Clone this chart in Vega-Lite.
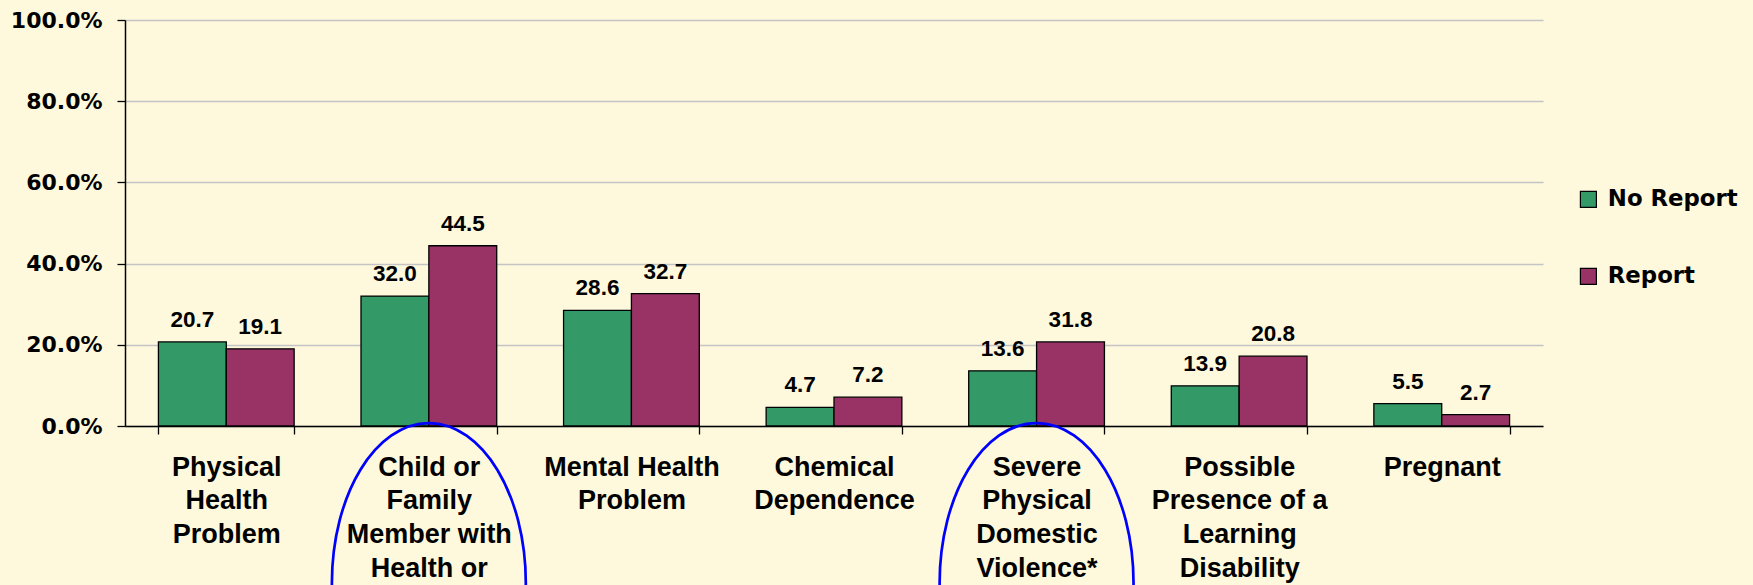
{
  "$schema": "https://vega.github.io/schema/vega-lite/v6.json",
  "autosize": {"type": "none"},
  "padding": {"left": 125, "top": 20, "right": 210, "bottom": 159},
  "width": 1418,
  "height": 406,
  "background": "#FEF9DC",
  "config": {
    "view": {"stroke": null},
    "font": "Liberation Sans"
  },
  "datasets": {
    "bars": [
      {"category": "Physical Health Problem", "group": "No Report", "value": 20.7, "label": "20.7"},
      {"category": "Physical Health Problem", "group": "Report", "value": 19.0, "label": "19.1"},
      {"category": "Child or Family Member with Health or", "group": "No Report", "value": 32.0, "label": "32.0"},
      {"category": "Child or Family Member with Health or", "group": "Report", "value": 44.4, "label": "44.5"},
      {"category": "Mental Health Problem", "group": "No Report", "value": 28.5, "label": "28.6"},
      {"category": "Mental Health Problem", "group": "Report", "value": 32.6, "label": "32.7"},
      {"category": "Chemical Dependence", "group": "No Report", "value": 4.6, "label": "4.7"},
      {"category": "Chemical Dependence", "group": "Report", "value": 7.1, "label": "7.2"},
      {"category": "Severe Physical Domestic Violence*", "group": "No Report", "value": 13.6, "label": "13.6"},
      {"category": "Severe Physical Domestic Violence*", "group": "Report", "value": 20.7, "label": "31.8"},
      {"category": "Possible Presence of a Learning Disability", "group": "No Report", "value": 9.9, "label": "13.9"},
      {"category": "Possible Presence of a Learning Disability", "group": "Report", "value": 17.2, "label": "20.8"},
      {"category": "Pregnant", "group": "No Report", "value": 5.5, "label": "5.5"},
      {"category": "Pregnant", "group": "Report", "value": 2.8, "label": "2.7"}
    ],
    "circles": [
      {"category": "Child or Family Member with Health or", "value": -38.7},
      {"category": "Severe Physical Domestic Violence*", "value": -38.7}
    ]
  },
  "encoding": {
    "x": {
      "field": "category",
      "type": "nominal",
      "sort": null,
      "scale": {"paddingInner": 0.33, "paddingOuter": 0.165},
      "axis": {
        "title": null,
        "labelAngle": 0,
        "labelLimit": 0,
        "labelFont": "Liberation Sans",
        "labelFontSize": 27,
        "labelFontWeight": "bold",
        "labelColor": "#000000",
        "labelLineHeight": 33.7,
        "labelBaseline": "top",
        "labelPadding": 20,
        "tickBand": "extent",
        "tickSize": 8,
        "tickColor": "#000000",
        "tickWidth": 1.3,
        "domainColor": "#000000",
        "domainWidth": 1.5,
        "grid": false,
        "labelExpr": "{'Physical Health Problem': ['Physical', 'Health', 'Problem'], 'Child or Family Member with Health or': ['Child or', 'Family', 'Member with', 'Health or'], 'Mental Health Problem': ['Mental Health', 'Problem'], 'Chemical Dependence': ['Chemical', 'Dependence'], 'Severe Physical Domestic Violence*': ['Severe', 'Physical', 'Domestic', 'Violence*'], 'Possible Presence of a Learning Disability': ['Possible', 'Presence of a', 'Learning', 'Disability'], 'Pregnant': ['Pregnant']}[datum.value]"
      }
    }
  },
  "layer": [
    {
      "data": {"name": "bars"},
      "mark": {"type": "bar", "stroke": "#000000", "strokeWidth": 1.3},
      "encoding": {
        "xOffset": {"field": "group", "type": "nominal", "scale": {"paddingInner": 0, "paddingOuter": 0}},
        "y": {
          "field": "value",
          "type": "quantitative",
          "scale": {"domain": [0, 100], "nice": false},
          "axis": {
            "title": null,
            "values": [0, 20, 40, 60, 80, 100],
            "labelExpr": "format(datum.value, '.1f') + '%'",
            "labelFont": "DejaVu Sans",
            "labelFontSize": 22,
            "labelFontWeight": "bold",
            "labelColor": "#000000",
            "labelPadding": 15,
            "tickSize": 8,
            "tickColor": "#000000",
            "tickWidth": 1.3,
            "domainColor": "#000000",
            "domainWidth": 1.5,
            "grid": true,
            "gridColor": "#C4C4C4",
            "gridWidth": 1.3
          }
        },
        "color": {
          "field": "group",
          "type": "nominal",
          "scale": {"domain": ["No Report", "Report"], "range": ["#339966", "#993366"]},
          "legend": {
            "title": null,
            "orient": "none",
            "legendX": 1452,
            "legendY": 168,
            "padding": 0,
            "symbolType": "square",
            "symbolSize": 256,
            "symbolStrokeColor": "#000000",
            "symbolStrokeWidth": 1.2,
            "labelFont": "DejaVu Sans",
            "labelFontSize": 22.8,
            "labelFontWeight": "bold",
            "labelColor": "#000000",
            "labelOffset": 8,
            "rowPadding": 53
          }
        }
      }
    },
    {
      "data": {"name": "bars"},
      "mark": {"type": "text", "baseline": "alphabetic", "dy": -15, "font": "Liberation Sans", "fontSize": 22.5, "fontWeight": "bold", "color": "#000000"},
      "encoding": {
        "xOffset": {"field": "group", "type": "nominal"},
        "y": {"field": "value", "type": "quantitative"},
        "text": {"field": "label", "type": "nominal"}
      }
    },
    {
      "data": {"name": "circles"},
      "mark": {
        "type": "point",
        "filled": false,
        "shape": "M 0 -1 C 0.335 -1 0.606 -0.552 0.606 0 C 0.606 0.552 0.335 1 0 1 C -0.335 1 -0.606 0.552 -0.606 0 C -0.606 -0.552 -0.335 -1 0 -1 Z",
        "size": 102400,
        "stroke": "#0000FF",
        "strokeWidth": 2.7,
        "opacity": 1
      },
      "encoding": {
        "y": {"field": "value", "type": "quantitative"}
      }
    }
  ]
}
